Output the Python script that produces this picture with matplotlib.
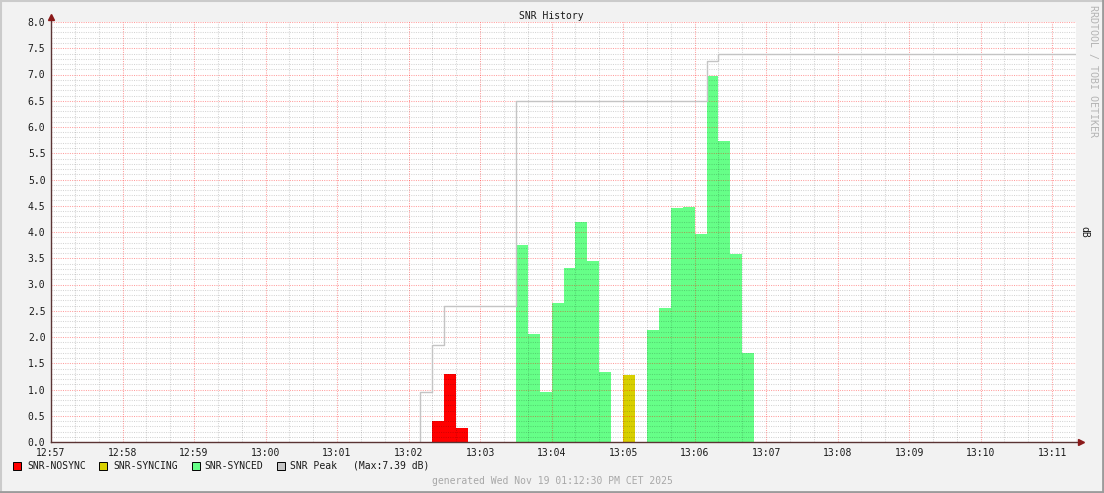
import matplotlib
matplotlib.use("Agg")
import matplotlib.pyplot as plt
from matplotlib.patches import Rectangle
from matplotlib.lines import Line2D

# ---------------- data ----------------
start_time = "12:57:00"
end_time = "13:11:20"
step_seconds = 10

nosync_times = ["13:02:20", "13:02:30", "13:02:40"]
nosync_vals = [0.40, 1.30, 0.27]

syncing_times = ["13:05:00"]
syncing_vals = [1.27]

synced_times = ["13:03:30", "13:03:40", "13:03:50", "13:04:00", "13:04:10", "13:04:20",
                "13:04:30", "13:04:40",
                "13:05:20", "13:05:30", "13:05:40", "13:05:50", "13:06:00", "13:06:10",
                "13:06:20", "13:06:30", "13:06:40"]
synced_vals = [3.75, 2.06, 0.95, 2.65, 3.31, 4.19, 3.45, 1.33,
               2.13, 2.55, 4.46, 4.48, 3.97, 6.98, 5.73, 3.59, 1.70]

peak_times = ["13:02:10", "13:02:20", "13:02:30", "13:03:30", "13:06:10", "13:06:20"]
peak_vals = [0.95, 1.85, 2.60, 6.50, 7.26, 7.39]
peak_max = 7.39

xtick_labels = ["12:57", "12:58", "12:59", "13:00", "13:01", "13:02", "13:03",
                "13:04", "13:05", "13:06", "13:07", "13:08", "13:09", "13:10", "13:11"]
ytick_labels = ["0.0", "0.5", "1.0", "1.5", "2.0", "2.5", "3.0", "3.5", "4.0",
                "4.5", "5.0", "5.5", "6.0", "6.5", "7.0", "7.5", "8.0"]

legend_labels = ["SNR-NOSYNC", "SNR-SYNCING", "SNR-SYNCED", "SNR Peak"]
title = "SNR History"
ylabel = "dB"
watermark = "RRDTOOL / TOBI OETIKER"
footer = "generated Wed Nov 19 01:12:30 PM CET 2025"

# colours
c_nosync = "#ff0000"
c_syncing = "#d8d000"
c_synced = "#66ff88"
c_peak = "#c4c4c4"


def secs(s):
    h, m, sec = (int(v) for v in s.split(":"))
    return h * 3600 + m * 60 + sec


t0 = secs(start_time)


def rel(times):
    return [secs(t) - t0 for t in times]


W, H = 1104, 493
DPI = 100
plt.rcParams["font.family"] = ["DejaVu Sans Mono"]
fig = plt.figure(figsize=(W / DPI, H / DPI), dpi=DPI, facecolor="#f2f2f2")

L, R, T, B = 51, 1076, 22, 442
ax = fig.add_axes([L / W, 1 - B / H, (R - L) / W, (B - T) / H])
ax.set_facecolor("white")

x_end = secs(end_time) - t0
ax.set_xlim(0, x_end)
ax.set_ylim(0, 8.0)

# bars (areas)
ax.bar(rel(nosync_times), nosync_vals, width=step_seconds, align="edge",
       color=c_nosync, linewidth=0, zorder=1)
ax.bar(rel(syncing_times), syncing_vals, width=step_seconds, align="edge",
       color=c_syncing, linewidth=0, zorder=1)
ax.bar(rel(synced_times), synced_vals, width=step_seconds, align="edge",
       color=c_synced, linewidth=0, zorder=1)

# peak line (step)
px = [rel(peak_times)[0]] + rel(peak_times) + [x_end]
py = [0] + peak_vals + [peak_vals[-1]]
ax.step(px, py, where="post", color=c_peak, linewidth=1.0, zorder=3)

# grid (semi-transparent, drawn over the areas like rrdtool)
major_x = [i * 60 for i in range(len(xtick_labels))]
minor_x = [i * 20 for i in range(int(x_end // 20) + 1) if (i * 20) % 60 != 0]
major_y = [i * 0.5 for i in range(len(ytick_labels))]
minor_y = [i * 0.1 for i in range(81) if i % 5 != 0]

dot = (0, (1, 1.2))
for x in minor_x:
    ax.axvline(x, color="black", alpha=0.17, lw=0.75, ls=dot, zorder=2)
for y in minor_y:
    ax.axhline(y, color="black", alpha=0.17, lw=0.75, ls=dot, zorder=2)
for x in major_x:
    ax.axvline(x, color="#ff0000", alpha=0.38, lw=0.75, ls=dot, zorder=2)
for y in major_y:
    ax.axhline(y, color="#ff0000", alpha=0.38, lw=0.75, ls=dot, zorder=2)

ax.set_xticks(major_x)
ax.set_xticklabels(xtick_labels, fontsize=7, color="#1a1a1a")
ax.set_yticks(major_y)
ax.set_yticklabels(ytick_labels, fontsize=7, color="#1a1a1a")
ax.tick_params(axis="both", length=0, pad=4)
for s in ax.spines.values():
    s.set_visible(False)

# axes lines with arrows
axis_col = "#5a3434"
arrow_col = "#8b1a1a"
fig.add_artist(Line2D([L / W, (R + 4) / W], [1 - B / H, 1 - B / H], color=axis_col, lw=1.0))
fig.add_artist(Line2D([L / W, L / W], [1 - B / H, 1 - (T - 4) / H], color=axis_col, lw=1.0))
fig.add_artist(Line2D([(R + 5) / W], [1 - B / H], marker=">", color=arrow_col,
                      markersize=4, lw=0))
fig.add_artist(Line2D([L / W], [1 - (T - 5) / H], marker="^", color=arrow_col,
                      markersize=4, lw=0))

# texts
fig.text(551 / W, 1 - 16 / H, title, ha="center", va="center", fontsize=7, color="#1a1a1a")
fig.text(1084 / W, 1 - 232 / H, ylabel, ha="center", va="center", fontsize=7,
         rotation=270, color="#1a1a1a")
fig.text(1093 / W, 1 - 5 / H, watermark, ha="center", va="top", fontsize=7.2,
         rotation=270, color="#b4b4b4")
fig.text(552 / W, 1 - 481 / H, footer, ha="center", va="center", fontsize=7, color="#a8a8a8")

# legend
leg_colors = [c_nosync, c_syncing, c_synced, c_peak]
leg_sq_x = [13, 99, 192, 277]
leg_txt_x = [27, 113, 204, 290]
ly = 466
for lab, col, sx, tx in zip(legend_labels, leg_colors, leg_sq_x, leg_txt_x):
    fig.add_artist(Rectangle((sx / W, 1 - (ly + 4) / H), 8 / W, 8 / H,
                             facecolor=col, edgecolor="black", lw=0.7,
                             transform=fig.transFigure))
    fig.text(tx / W, 1 - ly / H, lab, ha="left", va="center", fontsize=7, color="#1a1a1a")
fig.text(353 / W, 1 - ly / H, f"(Max:{peak_max:.2f} dB)", ha="left", va="center",
         fontsize=7, color="#1a1a1a")

# canvas border
fig.add_artist(Line2D([0, 1], [1 - 0.5 / H, 1 - 0.5 / H], color="#cbcbcb", lw=1.5))
fig.add_artist(Line2D([0.5 / W, 0.5 / W], [0, 1], color="#cbcbcb", lw=1.5))
fig.add_artist(Line2D([1 - 1 / W, 1 - 1 / W], [0, 1], color="#9b9b9b", lw=2))
fig.add_artist(Line2D([0, 1], [1 / H, 1 / H], color="#9b9b9b", lw=2))

fig.savefig("out.png", dpi=DPI, facecolor=fig.get_facecolor())
